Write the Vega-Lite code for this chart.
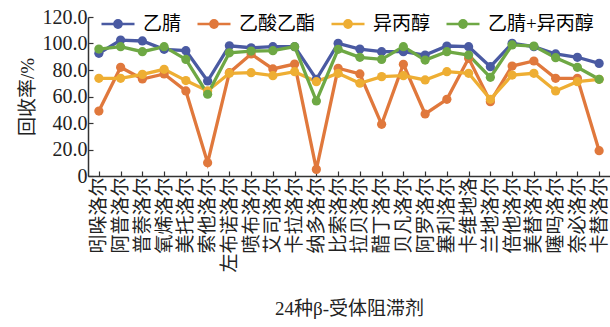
{
  "$schema": "https://vega.github.io/schema/vega-lite/v6.json",
  "width": 522,
  "height": 159,
  "autosize": {"type": "none"},
  "padding": {"left": 88, "top": 17, "right": 0, "bottom": 151},
  "background": "white",
  "datasets": {
    "rec": [
      {"drug": "吲哚洛尔", "乙腈": 92.6, "乙酸乙酯": 49, "异丙醇": 73.7, "乙腈+异丙醇": 95.8},
      {"drug": "阿普洛尔", "乙腈": 102.6, "乙酸乙酯": 82, "异丙醇": 73.7, "乙腈+异丙醇": 97.6},
      {"drug": "普萘洛尔", "乙腈": 101.9, "乙酸乙酯": 73.2, "异丙醇": 76.7, "乙腈+异丙醇": 93.8},
      {"drug": "氧烯洛尔", "乙腈": 95.6, "乙酸乙酯": 77, "异丙醇": 80.5, "乙腈+异丙醇": 97.6},
      {"drug": "美托洛尔", "乙腈": 94.6, "乙酸乙酯": 64.2, "异丙醇": 72, "乙腈+异丙醇": 88},
      {"drug": "索他洛尔", "乙腈": 71.7, "乙酸乙酯": 10, "异丙醇": 64.2, "乙腈+异丙醇": 61.7},
      {"drug": "左布诺洛尔", "乙腈": 98.3, "乙酸乙酯": 78, "异丙醇": 77.5, "乙腈+异丙醇": 93},
      {"drug": "喷布洛尔", "乙腈": 96.8, "乙酸乙酯": 92.1, "异丙醇": 78, "乙腈+异丙醇": 94.3},
      {"drug": "艾司洛尔", "乙腈": 97.6, "乙酸乙酯": 80.8, "异丙醇": 75.7, "乙腈+异丙醇": 94.6},
      {"drug": "卡拉洛尔", "乙腈": 97.6, "乙酸乙酯": 84.5, "异丙醇": 78.7, "乙腈+异丙醇": 97.6},
      {"drug": "纳多洛尔", "乙腈": 73, "乙酸乙酯": 5, "异丙醇": 71.2, "乙腈+异丙醇": 56.6},
      {"drug": "比索洛尔", "乙腈": 100.1, "乙酸乙酯": 81.3, "异丙醇": 77.5, "乙腈+异丙醇": 95.6},
      {"drug": "拉贝洛尔", "乙腈": 95.8, "乙酸乙酯": 77, "异丙醇": 70, "乙腈+异丙醇": 89.6},
      {"drug": "醋丁洛尔", "乙腈": 93.8, "乙酸乙酯": 39, "异丙醇": 75, "乙腈+异丙醇": 88},
      {"drug": "贝凡洛尔", "乙腈": 93.8, "乙酸乙酯": 84.3, "异丙醇": 75.7, "乙腈+异丙醇": 97.6},
      {"drug": "阿罗洛尔", "乙腈": 91.3, "乙酸乙酯": 46.8, "异丙醇": 72.5, "乙腈+异丙醇": 87.5},
      {"drug": "塞利洛尔", "乙腈": 98.1, "乙酸乙酯": 57.9, "异丙醇": 78.7, "乙腈+异丙醇": 93.8},
      {"drug": "卡维地洛", "乙腈": 97.6, "乙酸乙酯": 88.8, "异丙醇": 77.5, "乙腈+异丙醇": 91.3},
      {"drug": "兰地洛尔", "乙腈": 82.5, "乙酸乙酯": 56.1, "异丙醇": 57.9, "乙腈+异丙醇": 74.5},
      {"drug": "倍他洛尔", "乙腈": 100.1, "乙酸乙酯": 83, "异丙醇": 76.2, "乙腈+异丙醇": 98.9},
      {"drug": "美替洛尔", "乙腈": 97.6, "乙酸乙酯": 86.8, "异丙醇": 77.5, "乙腈+异丙醇": 98.1},
      {"drug": "噻吗洛尔", "乙腈": 92.1, "乙酸乙酯": 73.7, "异丙醇": 64.2, "乙腈+异丙醇": 89.3},
      {"drug": "奈必洛尔", "乙腈": 89.6, "乙酸乙酯": 73.7, "异丙醇": 71.2, "乙腈+异丙醇": 82},
      {"drug": "卡替洛尔", "乙腈": 85, "乙酸乙酯": 19.1, "异丙醇": 73, "乙腈+异丙醇": 73}
    ]
  },
  "data": {"name": "rec"},
  "transform": [
    {"fold": ["乙腈", "乙酸乙酯", "异丙醇", "乙腈+异丙醇"], "as": ["solvent", "value"]}
  ],
  "mark": {"type": "line", "strokeWidth": 3.3, "point": {"filled": true, "size": 85}},
  "encoding": {
    "x": {
      "field": "drug",
      "type": "nominal",
      "sort": null,
      "scale": {"type": "point", "padding": 0.5},
      "axis": {
        "title": "24种β-受体阻滞剂",
        "titleFontSize": 19,
        "titleFontWeight": "normal",
        "titleFont": "Liberation Serif, Noto Sans CJK SC",
        "titlePadding": 27,
        "labelAngle": -90,
        "labelFontSize": 19,
        "labelFont": "Noto Sans CJK SC",
        "labelPadding": 6,
        "labelOverlap": false,
        "tickSize": -5
      }
    },
    "y": {
      "field": "value",
      "type": "quantitative",
      "scale": {"domain": [0, 120], "nice": false},
      "axis": {
        "title": "回收率/%",
        "titleFontSize": 19,
        "titleFontWeight": "normal",
        "titleFont": "Liberation Serif, Noto Sans CJK SC",
        "titlePadding": 5,
        "values": [0, 20, 40, 60, 80, 100, 120],
        "labelExpr": "datum.value == 0 ? '0' : format(datum.value, '.1f')",
        "labelFontSize": 20,
        "labelFont": "Liberation Serif",
        "labelPadding": 6,
        "grid": false,
        "tickSize": -5
      }
    },
    "color": {
      "field": "solvent",
      "type": "nominal",
      "scale": {
        "domain": ["乙腈", "乙酸乙酯", "异丙醇", "乙腈+异丙醇"],
        "range": ["#4a5aa2", "#e0783c", "#eeae33", "#6ea844"]
      },
      "legend": {
        "title": null,
        "orient": "none",
        "legendX": 12,
        "legendY": -11,
        "direction": "horizontal",
        "columns": 4,
        "padding": 0,
        "symbolType": "M-1,0L1,0M-0.22,0A0.22,0.22,0,1,1,0.22,0A0.22,0.22,0,1,1,-0.22,0Z",
        "symbolSize": 1089,
        "symbolStrokeWidth": 2.5,
        "labelFont": "Liberation Serif, Noto Sans CJK SC",
        "labelFontSize": 19,
        "labelOffset": 7,
        "columnPadding": 10,
        "encode": {
          "symbols": {
            "update": {
              "fill": {"scale": "color", "field": "value"},
              "stroke": {"scale": "color", "field": "value"}
            }
          }
        }
      }
    }
  },
  "config": {
    "view": {"stroke": null},
    "axis": {
      "domainColor": "#333333",
      "domainWidth": 1.5,
      "tickColor": "#333333",
      "tickWidth": 1.2,
      "labelColor": "#222222",
      "titleColor": "#222222"
    }
  }
}
